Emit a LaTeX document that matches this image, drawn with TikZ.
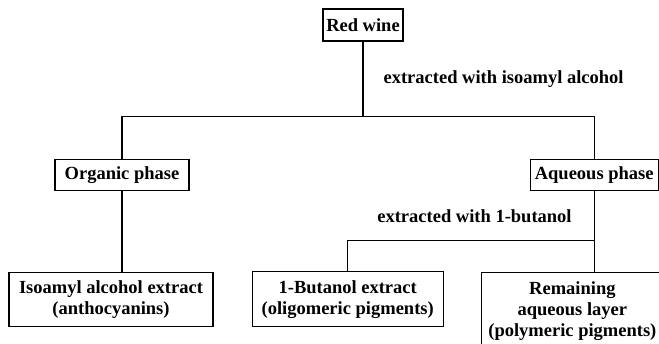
\documentclass[tikz,border=0pt]{standalone}
\usepackage{fontspec}
\setmainfont{Liberation Serif}
\usepackage{tikz}
\usetikzlibrary{positioning, calc}

\begin{document}
\begin{tikzpicture}[
    x=1pt, y=1pt,
    font=\fontsize{18.5}{21}\selectfont\bfseries,
    box/.style={rectangle, draw=black, line width=1.2pt, align=center, inner sep=2pt},
    link/.style={line width=1.2pt},
    lbl/.style={inner sep=0pt}
]
\useasboundingbox (0,0) rectangle (659,344);

% Nodes
\node (wine) [box, minimum width=80pt, minimum height=32pt] at (363,319) {Red wine};
\node (organic) [box, below=117pt of wine, xshift=-241pt, minimum width=134pt, minimum height=31pt] {Organic phase};
\node (aqueous) [box, right=340pt of organic, minimum width=128pt, minimum height=31pt] {Aqueous phase};
\node (isoamyl) [box, below=81pt of organic, xshift=-11pt, minimum width=204pt, minimum height=54pt] {Isoamyl alcohol extract\\(anthocyanins)};
\node (butanol) [box, right=38pt of isoamyl, minimum width=191pt, minimum height=55pt] {1-Butanol extract\\(oligomeric pigments)};
\node (remaining) [box, right=37pt of butanol, yshift=-12pt, minimum width=182pt, minimum height=78pt] {Remaining\\aqueous layer\\(polymeric pigments)};

% Connections
\draw [link] (wine.south) -- node[lbl, anchor=west, xshift=20pt] {extracted with isoamyl alcohol} ++(0,-75) coordinate (j1);
\draw [link] (organic.north) |- (j1) -| (aqueous.north);
\draw [link] (organic.south) -- (organic.south |- isoamyl.north);
\draw [link] (aqueous.south) -- node[lbl, anchor=east, xshift=-22pt] {extracted with 1-butanol} ++(0,-50) coordinate (j2);
\draw [link] (j2) -- (aqueous.south |- remaining.north);
\draw [link] (j2) -| (butanol.north);

\end{tikzpicture}
\end{document}
